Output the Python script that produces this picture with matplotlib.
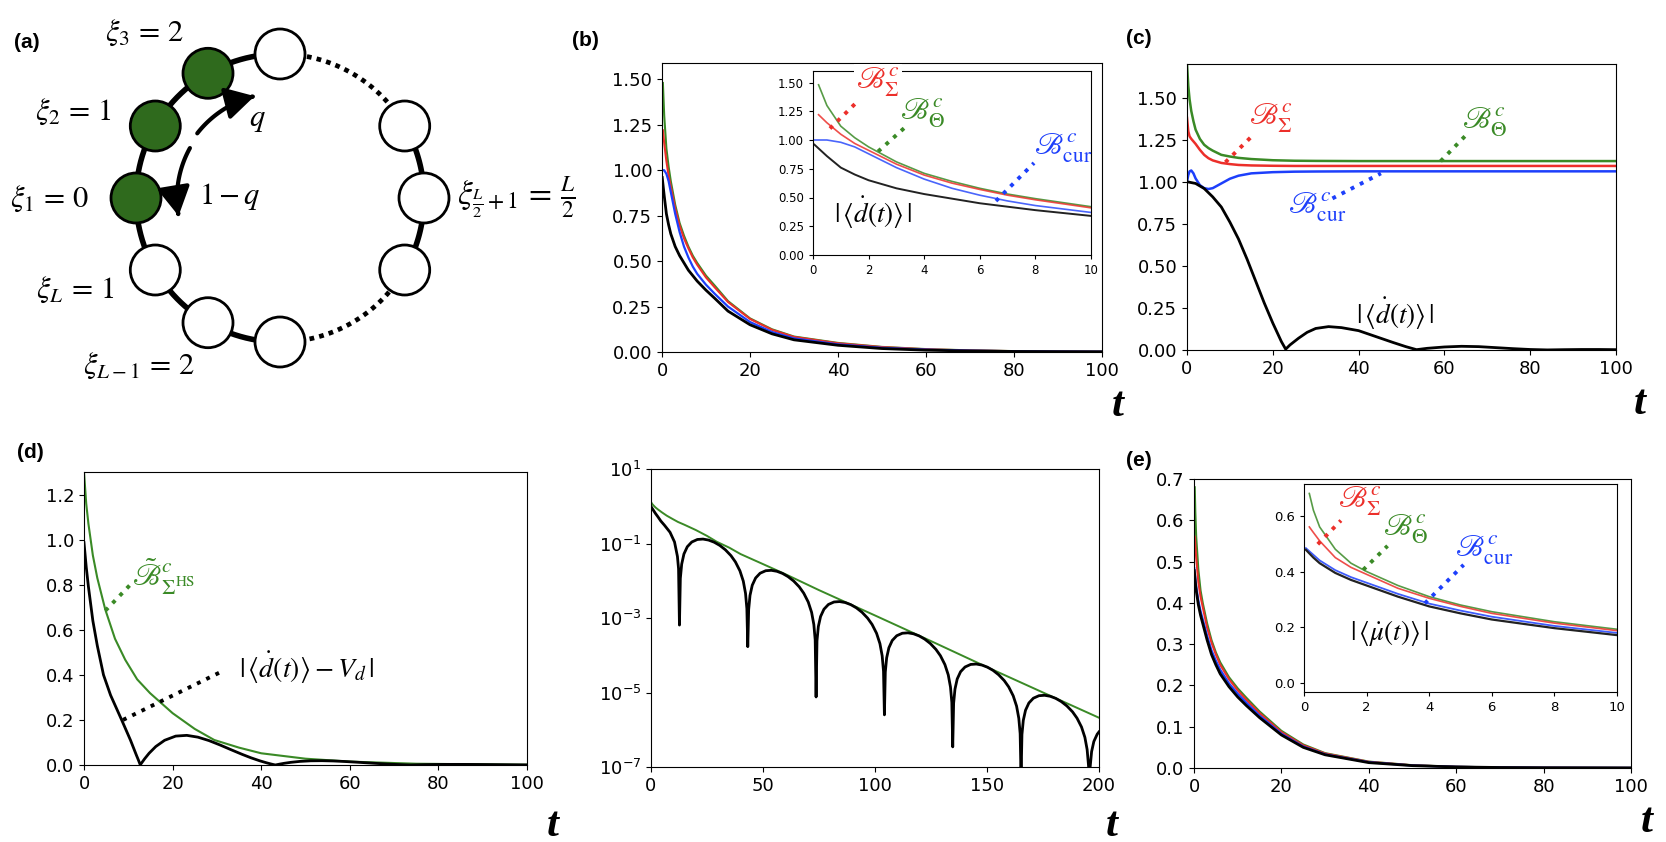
import numpy as np
import matplotlib
matplotlib.use("Agg")
import matplotlib.pyplot as plt
import matplotlib.ticker as mticker
from matplotlib.patches import Circle, FancyArrowPatch
from matplotlib.path import Path

W, H = 1666, 842

# ── colours ──────────────────────────────────────────────────────────────────
C_G = "#3a8a26"
C_R = "#ec2f2a"
C_B = "#1d3ffb"
C_K = "black"
C_NODE = "#2f6a1d"

# ── panel (b): relaxing bounds, zero field ───────────────────────────────────
TB_BOUND = [0.2, 0.5, 1, 1.5, 2, 3, 4, 5, 6, 7, 8, 10, 12, 15, 20, 25, 30,
            40, 50, 60, 70, 80, 90, 100]
B_THETA_B = [1.48, 1.30, 1.12, 1.02, 0.94, 0.81, 0.71, 0.64, 0.58, 0.53, 0.49,
             0.42, 0.365, 0.28, 0.185, 0.125, 0.085, 0.05, 0.028, 0.016,
             0.009, 0.005, 0.003, 0.0017]
B_SIGMA_B = [1.22, 1.15, 1.05, 0.97, 0.91, 0.79, 0.695, 0.625, 0.57, 0.52,
             0.48, 0.41, 0.355, 0.275, 0.182, 0.122, 0.083, 0.048, 0.027,
             0.015, 0.0085, 0.0048, 0.0028, 0.0016]
TB_CUR = [0.05, 0.5, 1, 1.5, 2, 3, 4, 5, 6, 7, 8, 10, 12, 15, 20, 25, 30,
          40, 50, 60, 70, 80, 90, 100]
B_CUR_B = [1.00, 1.00, 0.98, 0.94, 0.88, 0.76, 0.66, 0.58, 0.52, 0.47, 0.43,
           0.37, 0.32, 0.25, 0.165, 0.11, 0.075, 0.042, 0.023, 0.013, 0.0073,
           0.0041, 0.0024, 0.0014]
DDOT_B = [0.96, 0.86, 0.76, 0.70, 0.65, 0.58, 0.53, 0.49, 0.45, 0.42, 0.39,
          0.34, 0.295, 0.225, 0.15, 0.10, 0.067, 0.037, 0.019, 0.010, 0.0055,
          0.003, 0.0017, 0.001]

# ── panel (c): driven case ──────────────────────────────────────────────────
TC_BOUND = [0, 0.3, 0.6, 1, 1.5, 2, 3, 4, 5, 6, 8, 10, 12, 15, 20, 25, 30,
            40, 60, 80, 100]
B_THETA_C = [1.70, 1.57, 1.49, 1.42, 1.36, 1.31, 1.255, 1.22, 1.20, 1.185,
             1.16, 1.15, 1.142, 1.135, 1.128, 1.125, 1.124, 1.123, 1.123,
             1.123, 1.123]
B_SIGMA_C = [1.38, 1.30, 1.27, 1.255, 1.24, 1.225, 1.19, 1.16, 1.14, 1.127,
             1.112, 1.105, 1.10, 1.097, 1.095, 1.094, 1.094, 1.094, 1.094,
             1.094, 1.094]
B_CUR_C = [1.00, 1.04, 1.062, 1.067, 1.05, 1.02, 0.98, 0.962, 0.957, 0.962,
           0.99, 1.018, 1.036, 1.05, 1.057, 1.06, 1.061, 1.062, 1.062, 1.062,
           1.062]
TC_DDOT = [0, 2, 4, 6, 8, 10, 12, 14, 16, 18, 20, 22, 23, 24, 26, 28, 30, 33,
           36, 40, 44, 48, 51, 53.5, 56, 60, 64, 68, 72, 76, 80, 84, 88, 92,
           96, 100]
DDOT_C = [1.0, 0.99, 0.96, 0.91, 0.85, 0.76, 0.66, 0.54, 0.41, 0.28, 0.16,
          0.05, 0.005, 0.03, 0.07, 0.105, 0.128, 0.139, 0.133, 0.115, 0.08,
          0.045, 0.02, 0.002, 0.01, 0.018, 0.022, 0.02, 0.014, 0.008, 0.003,
          0.0005, 0.002, 0.003, 0.003, 0.002]

# ── panel (d): |<d'> - V_d| and its HS bound (linear + log views) ────────────
TD_BOUND = [0, 0.5, 1, 2, 3, 4.8, 7, 9.3, 12, 14.9, 20, 25, 29.4, 35, 40, 50,
            60, 75, 100, 125, 150, 175, 200]
B_HS_D = [1.30, 1.16, 1.07, 0.93, 0.83, 0.69, 0.56, 0.467, 0.38, 0.319, 0.23,
          0.16, 0.111, 0.077, 0.052, 0.028, 0.015, 0.0056, 0.00117, 2.4e-4,
          4.8e-5, 1.0e-5, 2.1e-6]
# deviation (decades), one row per arch
TD_DEV = [0, 0.5, 1, 2, 3, 4.4, 6, 8.5, 10.5, 11.8, 12.3, 12.7,
          13.1, 13.7, 14.7, 16.2, 18.2, 20.7, 23.2, 25.7, 28.2, 30.7, 33.2,
          35.7, 37.7, 39.7, 41.2, 42.2, 42.8, 43.2,
          43.6, 44.2, 45.2, 46.7, 48.7, 51.2, 53.7, 56.2, 58.7, 61.2, 63.7,
          66.2, 68.2, 70.2, 71.7, 72.7, 73.3, 73.7,
          74.1, 74.7, 75.7, 77.2, 79.2, 81.7, 84.2, 86.7, 89.2, 91.7, 94.2,
          96.7, 98.7, 100.7, 102.2, 103.2, 103.8, 104.2,
          104.6, 105.2, 106.2, 107.7, 109.7, 112.2, 114.7, 117.2, 119.7, 122.2,
          124.7, 127.2, 129.2, 131.2, 132.7, 133.7, 134.3, 134.7,
          135.1, 135.7, 136.7, 138.2, 140.2, 142.7, 145.2, 147.7, 150.2, 152.7,
          155.2, 157.7, 159.7, 161.7, 163.2, 164.2, 164.8, 165.2,
          165.6, 166.2, 167.2, 168.7, 170.7, 173.2, 175.7, 178.2, 180.7, 183.2,
          185.7, 188.2, 190.2, 192.2, 193.7, 194.7, 195.3, 195.7,
          196.1, 196.7, 197.7, 199.2, 200.0]
DEV_LOG10 = [-0.006, -0.056, -0.102, -0.194, -0.276, -0.398, -0.509, -0.699,
             -0.959, -1.347, -1.678, -3.19,
             -1.934, -1.554, -1.282, -1.087, -0.960, -0.892, -0.881, -0.908,
             -0.965, -1.051, -1.169, -1.326, -1.496, -1.734, -2.010, -2.338,
             -2.750, -3.77,
             -2.773, -2.393, -2.121, -1.926, -1.798, -1.731, -1.720, -1.746,
             -1.803, -1.890, -2.008, -2.165, -2.335, -2.572, -2.849, -3.176,
             -3.589, -5.12,
             -3.612, -3.231, -2.960, -2.765, -2.637, -2.570, -2.559, -2.585,
             -2.642, -2.728, -2.846, -3.004, -3.173, -3.411, -3.688, -4.015,
             -4.428, -5.60,
             -4.451, -4.070, -3.799, -3.603, -3.476, -3.409, -3.398, -3.424,
             -3.481, -3.567, -3.685, -3.843, -4.012, -4.250, -4.526, -4.854,
             -5.266, -6.46,
             -5.289, -4.909, -4.637, -4.442, -4.315, -4.247, -4.236, -4.263,
             -4.320, -4.406, -4.524, -4.681, -4.851, -5.089, -5.365, -5.693,
             -6.105, -7.3,
             -6.128, -5.748, -5.476, -5.281, -5.153, -5.086, -5.075, -5.101,
             -5.158, -5.245, -5.363, -5.520, -5.690, -5.927, -6.204, -6.531,
             -6.944, -7.3,
             -6.967, -6.586, -6.315, -6.119, -6.057]
DEV_D = np.power(10.0, DEV_LOG10)

# ── panel (e): chemical-potential current ───────────────────────────────────
TE_BOUND = [0.17, 0.3, 0.5, 1, 1.5, 2, 3, 4, 5, 6, 8, 10, 12, 15, 20, 25, 30,
            40, 50, 60, 70, 80, 100]
B_THETA_E = [0.68, 0.62, 0.56, 0.48, 0.43, 0.40, 0.35, 0.31, 0.28, 0.256,
             0.22, 0.193, 0.17, 0.137, 0.09, 0.057, 0.036, 0.0155, 0.0068,
             0.003, 0.0014, 0.0007, 0.0002]
B_SIGMA_E = [0.56, 0.54, 0.51, 0.45, 0.415, 0.39, 0.34, 0.304, 0.275, 0.25,
             0.215, 0.188, 0.165, 0.133, 0.087, 0.055, 0.035, 0.015, 0.0065,
             0.0029, 0.0014, 0.0007, 0.0002]
TE_CUR = [0.06, 0.3, 0.5, 1, 1.5, 2, 3, 4, 5, 6, 8, 10, 12, 15, 20, 25, 30,
          40, 50, 60, 70, 80, 100]
B_CUR_E = [0.484, 0.46, 0.44, 0.405, 0.38, 0.36, 0.32, 0.285, 0.26, 0.238,
           0.205, 0.18, 0.158, 0.127, 0.083, 0.052, 0.033, 0.014, 0.006,
           0.0028, 0.0013, 0.0006, 0.0002]
MUDOT_E = [0.478, 0.45, 0.43, 0.395, 0.37, 0.35, 0.31, 0.275, 0.25, 0.228,
           0.197, 0.172, 0.151, 0.122, 0.08, 0.05, 0.032, 0.013, 0.0057,
           0.0026, 0.0012, 0.0006, 0.0002]

# ── ring diagram for panel (a) ──────────────────────────────────────────────
NODE_ANGLES = [90, 120, 150, 180, 210, 240, 270, 30, 0, -30]
NODE_FILLED = [False, True, True, True, False, False, False, False, False, False]

MATH = dict(math_fontfamily="stix")
B_SIG = r"$\mathscr{B}^{c}_{\Sigma}$"
B_THE = r"$\mathscr{B}^{c}_{\Theta}$"
B_CUR = r"$\mathscr{B}^{c}_{\mathrm{cur}}$"
FS_B = 22
FS_ABS = 19.5

fig = plt.figure(figsize=(W / 100, H / 100), dpi=100)


def px_axes(left, right, top, bottom):
    return fig.add_axes([left / W, 1 - bottom / H, (right - left) / W,
                         (bottom - top) / H])


def fig_text(x, y, s, **kw):
    fig.text(x / W, 1 - y / H, s, **kw)


def panel_tag(x, y, s):
    fig_text(x, y, s, fontsize=15, fontweight="bold",
             family=["Liberation Sans", "DejaVu Sans"], ha="center", va="center")


def t_label(x, y):
    fig_text(x, y, "t", fontsize=31, fontweight="bold", fontstyle="italic",
             family=["Liberation Serif", "DejaVu Serif"], ha="center", va="center")


def connector(ax, p0, p1, color):
    ax.plot([p0[0], p1[0]], [p0[1], p1[1]], ls=":", color=color, lw=2.8)


def label(ax, x, y, s, color="k", fs=FS_B, **kw):
    ax.text(x, y, s, color=color, fontsize=fs, ha="center", va="center",
            **MATH, **kw)


# ═══════════════════════════ (a) ring diagram ═══════════════════════════════
ax_a = px_axes(0, 600, 0, 400)
ax_a.set_xlim(0, 600)
ax_a.set_ylim(400, 0)
ax_a.axis("off")
RC_X, RC_Y, RR, RN = 280, 198, 144, 25


def ring_arc(a0, a1, **kw):
    th = np.radians(np.linspace(a0, a1, 80))
    ax_a.plot(RC_X + RR * np.cos(th), RC_Y - RR * np.sin(th), color="k", **kw)


ring_arc(90, 270, lw=4.0, zorder=1)
ring_arc(-30, 30, lw=4.0, zorder=1)
ring_arc(30, 90, lw=3.4, ls=(0, (1, 1.1)), zorder=1)
ring_arc(270, 330, lw=3.4, ls=(0, (1, 1.1)), zorder=1)
for ang, filled in zip(NODE_ANGLES, NODE_FILLED):
    th = np.radians(ang)
    ax_a.add_patch(Circle((RC_X + RR * np.cos(th), RC_Y - RR * np.sin(th)), RN,
                          facecolor=C_NODE if filled else "white",
                          edgecolor="k", lw=2.0, zorder=3))

for a0, a1, rr in [(142, 104, 105), (151, 190, 103)]:
    th = np.radians(np.linspace(a0, a1, 40))
    verts = np.column_stack([RC_X + rr * np.cos(th), RC_Y - rr * np.sin(th)])
    ax_a.add_patch(FancyArrowPatch(path=Path(verts),
                                   arrowstyle="-|>,head_length=0.8,head_width=0.45",
                                   mutation_scale=22, lw=3.0, color="k", zorder=4))

A_FS = 22
label(ax_a, 145, 33, r"$\xi_3\,=\,2$", fs=A_FS)
label(ax_a, 73, 112, r"$\xi_2\,=\,1$", fs=A_FS)
label(ax_a, 50, 199, r"$\xi_1\,=\,0$", fs=A_FS)
label(ax_a, 75, 290, r"$\xi_L\,=\,1$", fs=A_FS)
label(ax_a, 139, 366, r"$\xi_{L-1}\,=\,2$", fs=A_FS)
label(ax_a, 257, 120, r"$q$", fs=A_FS)
label(ax_a, 230, 197, r"$1-q$", fs=A_FS)
ax_a.text(457, 197, r"$\xi_{\frac{L}{2}+1}\,=\,\frac{L}{2}$", fontsize=24,
          ha="left", va="center", **MATH)
panel_tag(27, 42, "(a)")

# ═══════════════════════════ (b) ════════════════════════════════════════════
ax_b = px_axes(662, 1102, 63, 352)
ax_b.plot(TB_BOUND, B_THETA_B, color=C_G, lw=1.5)
ax_b.plot(TB_BOUND, B_SIGMA_B, color=C_R, lw=1.5)
ax_b.plot(TB_CUR, B_CUR_B, color=C_B, lw=1.6)
ax_b.plot(TB_CUR, DDOT_B, color=C_K, lw=2.0)
ax_b.set_xlim(0, 100)
ax_b.set_ylim(0, 1.59)
ax_b.yaxis.set_major_locator(mticker.MultipleLocator(0.25))
ax_b.yaxis.set_major_formatter(mticker.FormatStrFormatter("%.2f"))
ax_b.tick_params(labelsize=13)

ax_bi = px_axes(813, 1091, 71, 255)
ax_bi.plot(TB_BOUND, B_THETA_B, color=C_G, lw=1.2, alpha=0.85)
ax_bi.plot(TB_BOUND, B_SIGMA_B, color=C_R, lw=1.2, alpha=0.85)
ax_bi.plot(TB_CUR, B_CUR_B, color=C_B, lw=1.2, alpha=0.8)
ax_bi.plot(TB_CUR, DDOT_B, color="#222222", lw=1.4)
ax_bi.set_xlim(0, 10)
ax_bi.set_ylim(0, 1.6)
ax_bi.yaxis.set_major_locator(mticker.MultipleLocator(0.25))
ax_bi.yaxis.set_major_formatter(mticker.FormatStrFormatter("%.2f"))
ax_bi.tick_params(labelsize=8.5, length=3)
label(ax_bi, 2.34, 1.50, B_SIG, C_R,
      bbox=dict(facecolor="white", edgecolor="none", pad=1.5), zorder=5)
connector(ax_bi, (0.61, 1.10), (1.58, 1.33), C_R)
label(ax_bi, 3.96, 1.235, B_THE, C_G)
connector(ax_bi, (2.34, 0.90), (3.31, 1.11), C_G)
label(ax_bi, 9.0, 0.93, B_CUR, C_B)
connector(ax_bi, (6.58, 0.47), (7.95, 0.80), C_B)
label(ax_bi, 2.16, 0.365, r"$|\,\langle \dot{d}(t)\rangle\,|$", fs=FS_ABS)
panel_tag(585, 40, "(b)")
t_label(1118, 406)

# ═══════════════════════════ (c) ════════════════════════════════════════════
ax_c = px_axes(1187, 1616, 64, 350)
ax_c.plot(TC_BOUND, B_THETA_C, color=C_G, lw=1.8)
ax_c.plot(TC_BOUND, B_SIGMA_C, color=C_R, lw=1.8)
ax_c.plot(TC_BOUND, B_CUR_C, color=C_B, lw=1.8)
ax_c.plot(TC_DDOT, DDOT_C, color=C_K, lw=2.0)
ax_c.set_xlim(0, 100)
ax_c.set_ylim(0, 1.70)
ax_c.yaxis.set_major_locator(mticker.MultipleLocator(0.25))
ax_c.yaxis.set_major_formatter(mticker.FormatStrFormatter("%.2f"))
ax_c.tick_params(labelsize=13)
label(ax_c, 19.5, 1.378, B_SIG, C_R)
connector(ax_c, (8.95, 1.116), (14.9, 1.265), C_R)
label(ax_c, 69.5, 1.354, B_THE, C_G)
connector(ax_c, (59.1, 1.122), (65.5, 1.289), C_G)
label(ax_c, 30.3, 0.847, B_CUR, C_B)
connector(ax_c, (33.9, 0.901), (45.2, 1.05), C_B)
label(ax_c, 48.6, 0.215, r"$|\,\langle \dot{d}(t)\rangle\,|$", fs=FS_ABS)
panel_tag(1139, 38, "(c)")
t_label(1640, 404)

# ═══════════════════════════ (d) linear ═════════════════════════════════════
ax_d = px_axes(84, 527, 472, 765)
ax_d.plot(TD_BOUND, B_HS_D, color=C_G, lw=1.5)
ax_d.plot(TD_DEV, DEV_D, color=C_K, lw=2.0)
ax_d.set_xlim(0, 100)
ax_d.set_ylim(0, 1.30)
ax_d.yaxis.set_major_locator(mticker.MultipleLocator(0.2))
ax_d.yaxis.set_major_formatter(mticker.FormatStrFormatter("%.1f"))
ax_d.tick_params(labelsize=13)
label(ax_d, 18.0, 0.835, r"$\tilde{\mathscr{B}}^{c}_{\Sigma^{\mathrm{HS}}}$", C_G)
connector(ax_d, (4.83, 0.685), (10.8, 0.807), C_G)
label(ax_d, 50.3, 0.43, r"$|\,\langle \dot{d}(t)\rangle - V_d\,|$", fs=20)
connector(ax_d, (8.8, 0.20), (31.0, 0.414), C_K)
panel_tag(30, 452, "(d)")
t_label(553, 826)

# ═══════════════════════════ (d) log ════════════════════════════════════════
ax_l = px_axes(651, 1099, 469, 767)
ax_l.plot(TD_BOUND, B_HS_D, color=C_G, lw=1.4)
ax_l.plot(TD_DEV, DEV_D, color=C_K, lw=2.0)
ax_l.set_yscale("log")
ax_l.set_xlim(0, 200)
ax_l.set_ylim(1e-7, 10)
ax_l.set_yticks([1e-7, 1e-5, 1e-3, 1e-1, 1e1])
ax_l.yaxis.set_minor_locator(mticker.NullLocator())
ax_l.xaxis.set_major_locator(mticker.MultipleLocator(50))
ax_l.tick_params(labelsize=13)
t_label(1112, 826)

# ═══════════════════════════ (e) ════════════════════════════════════════════
ax_e = px_axes(1194, 1631, 479, 768)
ax_e.plot(TE_BOUND, B_THETA_E, color=C_G, lw=1.5)
ax_e.plot(TE_BOUND, B_SIGMA_E, color=C_R, lw=1.5)
ax_e.plot(TE_CUR, B_CUR_E, color=C_B, lw=1.6)
ax_e.plot(TE_CUR, MUDOT_E, color=C_K, lw=2.0)
ax_e.set_xlim(0, 100)
ax_e.set_ylim(0, 0.7)
ax_e.yaxis.set_major_locator(mticker.MultipleLocator(0.1))
ax_e.yaxis.set_major_formatter(mticker.FormatStrFormatter("%.1f"))
ax_e.tick_params(labelsize=13)

ax_ei = px_axes(1304, 1617, 484, 692)
ax_ei.plot(TE_BOUND, B_THETA_E, color=C_G, lw=1.2, alpha=0.85)
ax_ei.plot(TE_BOUND, B_SIGMA_E, color=C_R, lw=1.2, alpha=0.85)
ax_ei.plot(TE_CUR, B_CUR_E, color=C_B, lw=1.3, alpha=0.85)
ax_ei.plot(TE_CUR, MUDOT_E, color="#222222", lw=1.6)
ax_ei.set_xlim(0, 10)
ax_ei.set_ylim(-0.032, 0.714)
ax_ei.yaxis.set_major_locator(mticker.MultipleLocator(0.2))
ax_ei.yaxis.set_major_formatter(mticker.FormatStrFormatter("%.1f"))
ax_ei.tick_params(labelsize=9.5, length=3)
label(ax_ei, 1.77, 0.651, B_SIG, C_R)
connector(ax_ei, (0.44, 0.498), (1.18, 0.583), C_R)
label(ax_ei, 3.25, 0.55, B_THE, C_G)
connector(ax_ei, (1.89, 0.406), (2.67, 0.492), C_G)
label(ax_ei, 5.77, 0.478, B_CUR, C_B)
connector(ax_ei, (3.86, 0.286), (5.1, 0.424), C_B)
label(ax_ei, 2.75, 0.178, r"$|\,\langle \dot{\mu}(t)\rangle\,|$", fs=FS_ABS)
panel_tag(1139, 460, "(e)")
t_label(1647, 822)

fig.savefig("out.png", dpi=100)
